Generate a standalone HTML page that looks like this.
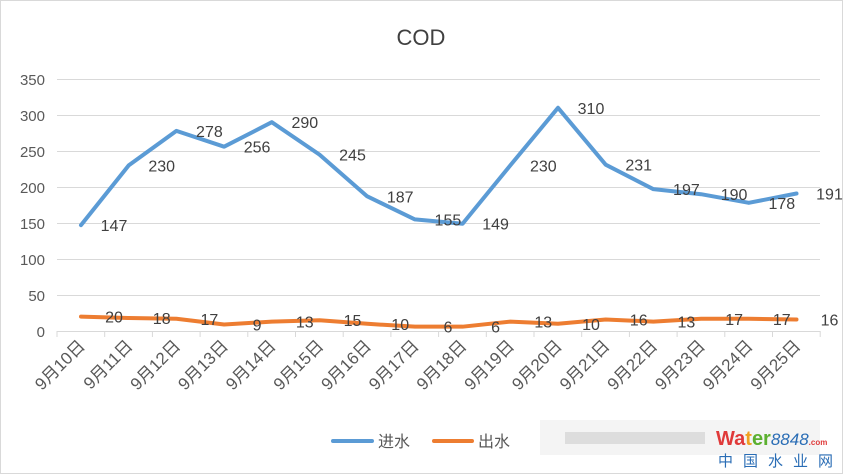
<!DOCTYPE html><html><head><meta charset="utf-8"><style>body{margin:0;background:#fff}svg{display:block}</style></head><body>
<svg width="843" height="474" xmlns="http://www.w3.org/2000/svg" font-family="'Liberation Sans','Noto Sans CJK SC',sans-serif">
<rect x="0.5" y="0.5" width="842" height="473" fill="#fff" stroke="#d9d9d9"/>
<text x="421" y="45" font-size="22" fill="#404040" text-anchor="middle">COD</text>
<g stroke="#d9d9d9" stroke-width="1">
<line x1="57" x2="820" y1="79.5" y2="79.5"/><line x1="57" x2="820" y1="115.5" y2="115.5"/><line x1="57" x2="820" y1="151.5" y2="151.5"/><line x1="57" x2="820" y1="187.5" y2="187.5"/><line x1="57" x2="820" y1="223.5" y2="223.5"/><line x1="57" x2="820" y1="259.5" y2="259.5"/><line x1="57" x2="820" y1="295.5" y2="295.5"/><line x1="57" x2="820" y1="331.5" y2="331.5"/>
</g>
<g font-size="15" fill="#595959" text-anchor="end">
<text x="45" y="85">350</text><text x="45" y="121">300</text><text x="45" y="157">250</text><text x="45" y="193">200</text><text x="45" y="229">150</text><text x="45" y="265">100</text><text x="45" y="301">50</text><text x="45" y="337">0</text>
</g>
<script>
var s=document.querySelector('svg'),ns='http://www.w3.org/2000/svg';
var a=[147,230,278,256,290,245,187,155,149,230,310,231,197,190,178,191],b=[20,18,17,9,13,15,10,6,6,13,10,16,13,17,17,16];
function X(i){return 81+i*47.7}function Y(v){return 331-v*0.72}
function el(n,at,txt){var e=document.createElementNS(ns,n);for(var k in at)e.setAttribute(k,at[k]);if(txt!=null)e.textContent=txt;s.appendChild(e);return e}
for(var i=0;i<=16;i++){var x=57+i*47.7;el('line',{x1:x,x2:x,y1:331,y2:337,stroke:'#d9d9d9'})}
function line(d,c){el('polyline',{points:d.map(function(v,i){return X(i)+','+Y(v)}).join(' '),fill:'none',stroke:c,'stroke-width':4,'stroke-linejoin':'round','stroke-linecap':'round'})}
line(a,'#5b9bd5');line(b,'#ed7d31');
function lab(d){d.forEach(function(v,i){el('text',{x:X(i)+33,y:Y(v)+6,'font-size':16,fill:'#404040','text-anchor':'middle'},v)})}
lab(a);lab(b);
for(var i=0;i<16;i++){var x=X(i)+5,y=347;el('text',{x:x,y:y,'font-size':17,fill:'#595959','text-anchor':'end',transform:'rotate(-45 '+x+' '+y+')'},'9月'+(10+i)+'日')}
</script>
<line x1="333" x2="372" y1="441" y2="441" stroke="#5b9bd5" stroke-width="4" stroke-linecap="round"/>
<text x="378" y="447" font-size="16" fill="#595959">进水</text>
<line x1="434" x2="472" y1="441" y2="441" stroke="#ed7d31" stroke-width="4" stroke-linecap="round"/>
<text x="478" y="447" font-size="16" fill="#595959">出水</text>
<rect x="540" y="420" width="280" height="35" fill="#f4f4f4"/>
<rect x="565" y="432" width="140" height="12" fill="#dddddd"/>
<text x="716" y="445" font-size="20" font-weight="bold" fill="#e03a3a">Wa<tspan fill="#f0a020">t</tspan><tspan fill="#5cb030">er</tspan><tspan fill="#2a6db5" font-style="italic" font-weight="normal" font-size="17">8848</tspan><tspan fill="#e03a3a" font-size="8">.com</tspan></text>
<text x="718" y="466" font-size="15" fill="#2a6db5" letter-spacing="10">中国水业网</text>
</svg>
</body></html>
